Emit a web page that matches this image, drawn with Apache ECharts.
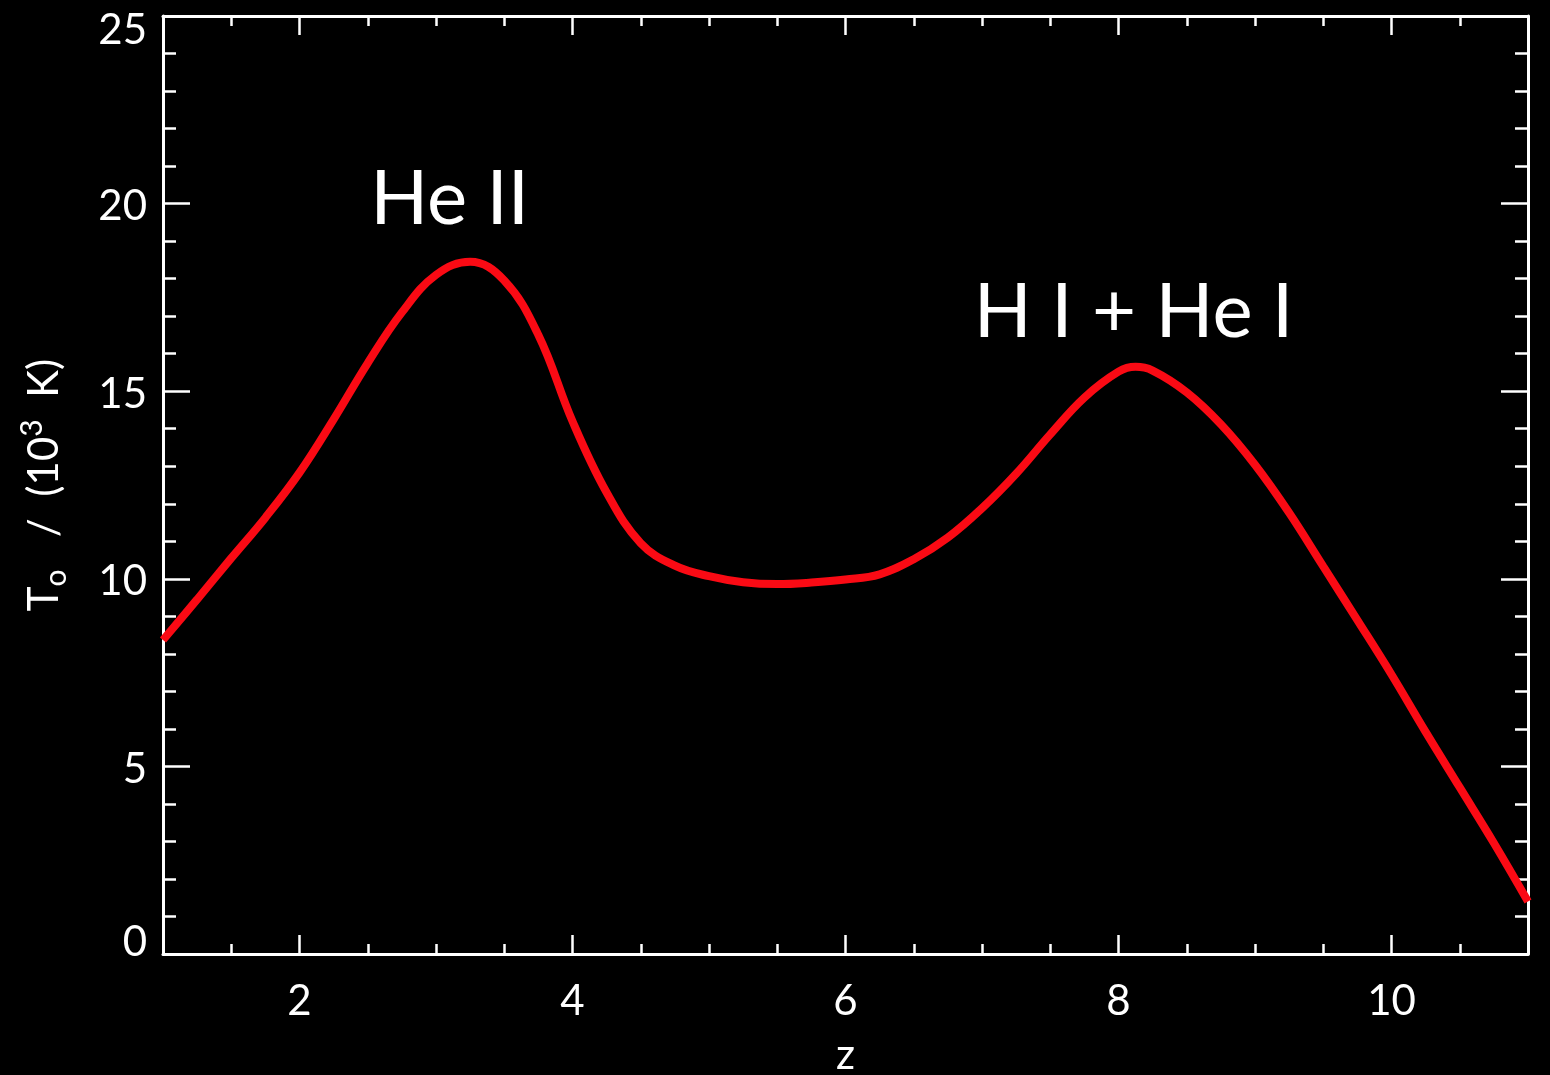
<!DOCTYPE html>
<html>
<head>
<meta charset="utf-8">
<style>
  html, body { margin: 0; padding: 0; background: #000; overflow: hidden; }
  #chart { width: 1550px; height: 1075px; }
</style>
<script src="https://cdn.jsdelivr.net/npm/echarts@6/dist/echarts.min.js"></script>
</head>
<body>
<div id="chart"></div>
<script>
// ---- data (T0 in 10^3 K vs redshift z) ----
const zValues = [1.0, 1.25, 1.5, 1.75, 2.0, 2.25, 2.5, 2.75, 3.0, 3.25, 3.5, 3.75, 4.0, 4.25, 4.5, 4.75, 5.0, 5.25, 5.5, 5.75, 6.0, 6.25, 6.5, 6.75, 7.0, 7.25, 7.5, 7.75, 8.0, 8.125, 8.25, 8.5, 8.75, 9.0, 9.25, 9.5, 9.75, 10.0, 10.25, 10.5, 10.75, 11.0];
const tValues = [8.37, 9.45, 10.55, 11.63, 12.83, 14.25, 15.75, 17.1, 18.1, 18.45, 17.95, 16.5, 14.2, 12.3, 10.95, 10.35, 10.07, 9.91, 9.86, 9.9, 9.98, 10.12, 10.52, 11.1, 11.88, 12.8, 13.85, 14.83, 15.52, 15.65, 15.55, 14.97, 14.12, 13.04, 11.76, 10.33, 8.9, 7.45, 5.92, 4.44, 2.96, 1.4];
const xMajorTicks = [2, 4, 6, 8, 10];
const yMajorTicks = [0, 5, 10, 15, 20, 25];
const annotationTexts = ['He II', 'H I + He I'];
const annotationZ = [3.10, 8.11];
const annotationT = [20.1, 17.1];

const FONT = 'Lato';
const WHITE = '#ffffff';
const chart = echarts.init(document.getElementById('chart'), null, { renderer: 'canvas' });

function xAxisBase(pos) {
  return {
    type: 'value', position: pos, min: 1, max: 11, interval: 0.5,
    splitLine: { show: false },
    axisLine: { show: true, onZero: false, lineStyle: { color: WHITE, width: 3 } },
    axisTick: { show: true, inside: true, length: 10, lineStyle: { color: WHITE, width: 2.5 } },
    axisLabel: { show: false }
  };
}
function xAxisMajor(pos) {
  return {
    type: 'value', position: pos, min: 1, max: 11, interval: 0.5,
    splitLine: { show: false },
    axisLine: { show: false, onZero: false },
    axisTick: { show: true, inside: true, length: 19, customValues: xMajorTicks, lineStyle: { color: WHITE, width: 2.5 } },
    axisLabel: { show: false }
  };
}
function yAxisBase(pos) {
  return {
    type: 'value', position: pos, min: 0, max: 25, interval: 1,
    splitLine: { show: false },
    axisLine: { show: true, onZero: false, lineStyle: { color: WHITE, width: 3 } },
    axisTick: { show: true, inside: true, length: 13, lineStyle: { color: WHITE, width: 2.5 } },
    axisLabel: { show: false }
  };
}
function yAxisMajor(pos) {
  return {
    type: 'value', position: pos, min: 0, max: 25, interval: 1,
    splitLine: { show: false },
    axisLine: { show: false, onZero: false },
    axisTick: { show: true, inside: true, length: 27, customValues: yMajorTicks, lineStyle: { color: WHITE, width: 2.5 } },
    axisLabel: { show: false }
  };
}

const xBottom = xAxisBase('bottom');
xBottom.axisLabel = { show: true, customValues: xMajorTicks, color: WHITE, fontFamily: FONT, fontSize: 42, margin: 26 };
xBottom.name = 'z';
xBottom.nameLocation = 'middle';
xBottom.nameGap = 80;
xBottom.nameTextStyle = { color: WHITE, fontFamily: FONT, fontSize: 42 };

const yLeft = yAxisBase('left');
yLeft.axisLabel = {
  show: true, customValues: yMajorTicks, margin: 16,
  formatter: function (v) {
    if (v === 25) return '{top|' + v + '}';
    if (v === 0) return '{bot|' + v + '}';
    return '{n|' + v + '}';
  },
  rich: {
    n: { color: WHITE, fontFamily: FONT, fontSize: 42, padding: [6, 0, 0, 0] },
    top: { color: WHITE, fontFamily: FONT, fontSize: 42, padding: [28, 0, 0, 0] },
    bot: { color: WHITE, fontFamily: FONT, fontSize: 42, padding: [0, 0, 24, 0] }
  }
};
yLeft.name = '{a|T}{s|o}{a|   /  (10}{p|3}{a|  K)}';
yLeft.nameLocation = 'middle';
yLeft.nameRotate = 90;
yLeft.nameGap = 92;
yLeft.nameTextStyle = {
  color: WHITE, fontFamily: FONT, fontSize: 42,
  rich: {
    a: { color: WHITE, fontFamily: FONT, fontSize: 42, lineHeight: 54 },
    s: { color: WHITE, fontFamily: FONT, fontSize: 30, lineHeight: 24, verticalAlign: 'bottom' },
    p: { color: WHITE, fontFamily: FONT, fontSize: 30, lineHeight: 30, verticalAlign: 'top' }
  }
};

const lineData = zValues.map((z, i) => [z, tValues[i]]);

const option = {
  backgroundColor: '#000000',
  animation: false,
  grid: { left: 163, right: 22, top: 16, bottom: 121, containLabel: false, outerBoundsMode: 'none' },
  xAxis: [xBottom, xAxisMajor('bottom'), xAxisBase('top'), xAxisMajor('top')],
  yAxis: [yLeft, yAxisMajor('left'), yAxisBase('right'), yAxisMajor('right')],
  series: [{
    type: 'line',
    xAxisIndex: 0, yAxisIndex: 0,
    data: lineData,
    showSymbol: false,
    smooth: 0.4,
    lineStyle: { color: '#fa0a14', width: 8 },
    markPoint: {
      silent: true,
      data: annotationTexts.map((t, i) => ({
        coord: [annotationZ[i], annotationT[i]],
        symbol: 'circle',
        symbolSize: 1,
        itemStyle: { color: 'rgba(0,0,0,0)' },
        label: {
          show: true, formatter: t, position: 'inside',
          color: WHITE, fontFamily: FONT, fontSize: 76,
          align: 'center', verticalAlign: 'middle'
        }
      }))
    }
  }]
};
chart.setOption(option);
</script>
</body>
</html>
